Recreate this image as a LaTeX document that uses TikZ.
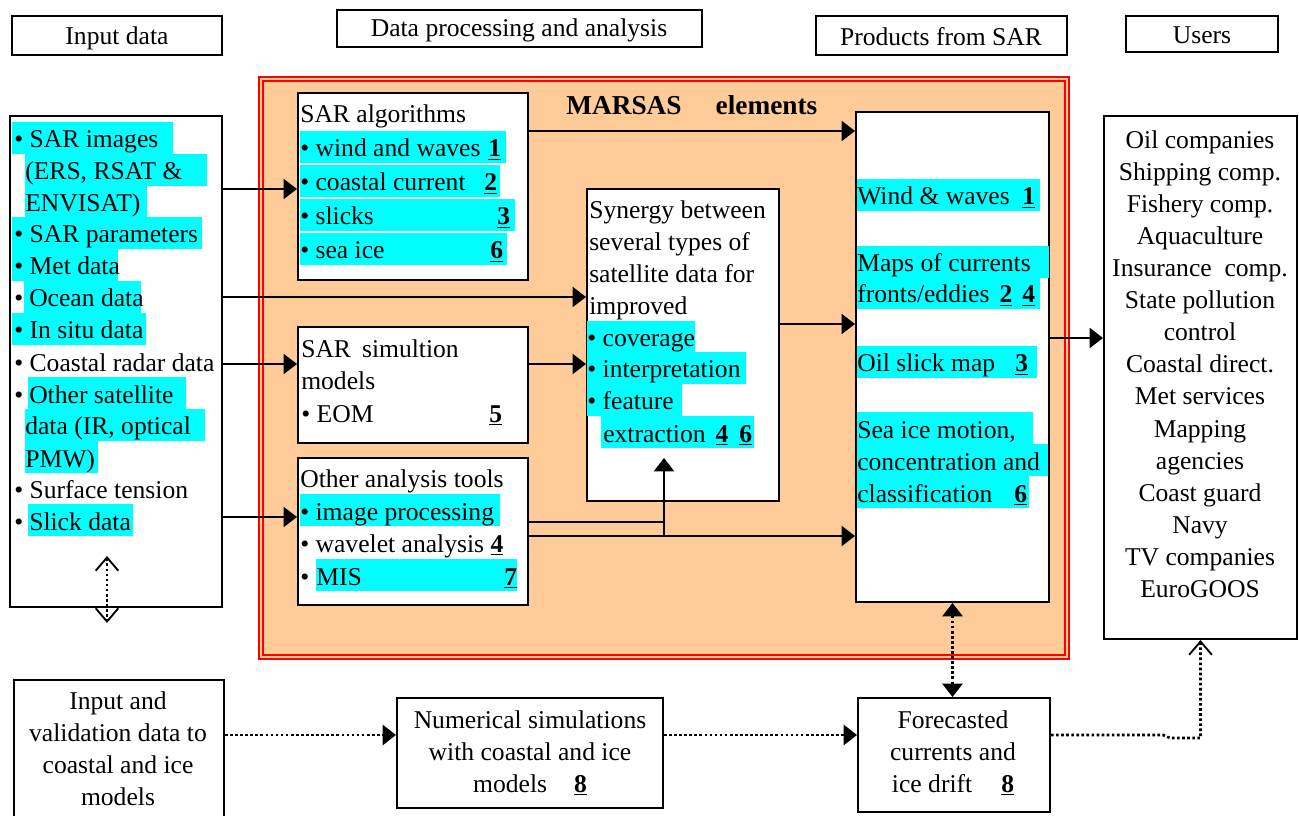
\documentclass[tikz,border=0pt]{standalone}
\usepackage{fontspec}
\setmainfont{Liberation Serif}
\usetikzlibrary{arrows.meta,fit}
\newlength\px
\setlength\px{0.75pt}
\definecolor{peach}{HTML}{FFCC99}
\definecolor{hlcyan}{HTML}{00FFFF}
% bold underlined reference number
\newcommand\nb[1]{\underline{\textbf{#1}}}
% highlighted text line: name, x, baseline y, width (px), text
\newcommand\hl[5]{\node[hlt] (#1) at (#2,#3) {\makebox[#4\px][l]{#5}};}
\tikzset{
  obarb/.tip={Straight Barb[length=10pt,width=17pt,line width=1.4pt]},
  ftri/.tip={Triangle[length=10pt,width=15pt]},
}
\begin{document}
\begin{tikzpicture}[x=0.75pt,y=-0.75pt,
  font=\fontsize{19.2}{24}\selectfont,
  txt/.style={anchor=base west, inner sep=0pt},
  ctxt/.style={anchor=base, inner sep=0pt},
  hlt/.style={txt, fill=hlcyan, text height=19.5pt, text depth=4.5pt},
  box/.style={draw, line width=1.5pt, fill=white, inner sep=0pt},
  frame/.style={draw=red, double=peach, double distance=2.2pt, line width=1.4pt, fill=peach, inner sep=0pt},
  ln/.style={line width=1.4pt},
  arr/.style={ln, -{ftri}},
  dotln/.style={line width=2pt, dash pattern=on 2pt off 1.8pt},
  dotarr/.style={dotln, -{ftri}},
  dotboth/.style={dotln, {ftri}-{ftri}},
]
\useasboundingbox (0,0) rectangle (1299,816);

% MARSAS frame
\node[frame, fit={(261,79)(1067,657)}] (marsas) {};
\node[txt, font=\fontsize{20.5}{24}\selectfont\bfseries] (mtitle) at (566,115) {MARSAS\hspace{34\px}elements};

% header boxes
\node[box, fit={(12,16)(222,55)}] (hin) {};
\node[ctxt] (hint) at (117,45) {Input data};
\node[box, fit={(337,10)(702,47)}] (hproc) {};
\node[ctxt] (hproct) at (519,37) {Data processing and analysis};
\node[box, fit={(816,16)(1067,55)}] (hprod) {};
\node[ctxt] (hprodt) at (941,46) {Products from SAR};
\node[box, fit={(1126,16)(1278,52)}] (husr) {};
\node[ctxt] (husrt) at (1202,44) {Users};

% main boxes
\node[box, fit={(10,116)(222,607)}] (input) {};
\node[box, fit={(298,93)(528,280)}] (alg) {};
\node[box, fit={(587,189)(779,501)}] (syn) {};
\node[box, fit={(298,327)(528,443)}] (sim) {};
\node[box, fit={(298,458)(528,605)}] (oth) {};
\node[box, fit={(856,112)(1049,602)}] (prod) {};
\node[box, fit={(1104,116)(1297,639)}] (users) {};
\node[box, fit={(14,680)(224,840)}] (val) {};
\node[box, fit={(397,698)(663,808)}] (num) {};
\node[box, fit={(858,698)(1050,812)}] (fore) {};

% input data
\hl{i1}{12}{148}{161}{\hspace{2\px}\textbullet\ SAR images}
\hl{i2}{25}{180}{182}{(ERS, RSAT \&}
\hl{i3}{25}{212}{122}{ENVISAT)}
\hl{i4}{12}{243}{190}{\hspace{2\px}\textbullet\ SAR parameters}
\hl{i5}{12}{275}{106}{\hspace{2\px}\textbullet\ Met data}
\hl{i6}{24}{307}{117}{\hspace{5\px}Ocean data}
\node[txt] (i6b) at (14,307) {\textbullet};
\hl{i7}{12}{339}{134}{\hspace{2\px}\textbullet\ In situ data}
\node[txt] (i8) at (14,372) {\textbullet\ Coastal radar data};
\hl{i9}{28}{403}{158}{\hspace{1\px}Other satellite}
\node[txt] (i9b) at (14,403) {\textbullet};
\hl{i10}{25}{435}{180}{data (IR, optical}
\hl{i11}{25}{467}{73}{PMW)}
\node[txt] (i12) at (14,498) {\textbullet\ Surface tension};
\hl{i13}{28}{530}{105}{\hspace{1\px}Slick data}
\node[txt] (i13b) at (14,530) {\textbullet};

% SAR algorithms
\node[txt] (a0) at (300,123) {SAR algorithms};
\hl{a1}{300}{157}{206}{\textbullet\ wind and waves\hfill\nb{1}\hspace{5\px}}
\hl{a2}{300}{191}{200}{\textbullet\ coastal current\hfill\nb{2}\hspace{3\px}}
\hl{a3}{300}{225}{215}{\textbullet\ slicks\hfill\nb{3}\hspace{5\px}}
\hl{a4}{300}{259}{207}{\textbullet\ sea ice\hfill\nb{6}\hspace{4\px}}

% synergy
\node[txt] (s1) at (589,219) {Synergy between};
\node[txt] (s2) at (589,251) {several types of};
\node[txt] (s3) at (589,283) {satellite data for};
\node[txt] (s4) at (589,315) {improved};
\hl{s5}{587}{347}{108}{\textbullet\ coverage}
\hl{s6}{587}{378}{159}{\textbullet\ interpretation}
\hl{s7}{587}{410}{95}{\textbullet\ feature}
\hl{s8}{601}{442}{153}{\hspace{2\px}extraction\hfill\nb{4}\hspace{11\px}\nb{6}\hspace{2\px}}

% SAR simulation models
\node[txt] (m1) at (301,358) {SAR\hspace{11\px}simultion};
\node[txt] (m2) at (301,390) {models};
\node[txt] (m3) at (301,422) {\makebox[201\px][l]{\textbullet\ EOM\hfill\nb{5}}};

% other analysis tools
\node[txt] (o1) at (300,487) {Other analysis tools};
\hl{o2}{300}{520}{200}{\textbullet\ image processing}
\node[txt] (o3) at (300,552) {\textbullet\ wavelet analysis \nb{4}};
\hl{o4}{316}{585}{201}{MIS\hfill\nb{7}}
\node[txt] (o4b) at (300,585) {\textbullet};

% products
\hl{p1}{857}{205}{183}{Wind \& waves\hfill\nb{1}\hspace{5\px}}
\hl{p2}{857}{272}{192}{Maps of currents}
\hl{p3}{857}{303}{183}{fronts/eddies\hfill\nb{2}\hspace{10\px}\nb{4}\hspace{5\px}}
\hl{p4}{857}{372}{180}{Oil slick map\hfill\nb{3}\hspace{9\px}}
\hl{p5}{857}{438}{176}{Sea ice motion,}
\hl{p6}{857}{470}{191}{concentration and}
\hl{p7}{857}{502}{172}{classification\hfill\nb{6}\hspace{2\px}}

% users
\foreach \t [count=\i] in {Oil companies, Shipping comp., Fishery comp., Aquaculture,
  Insurance\ \ comp., State pollution, control, Coastal direct., Met services,
  Mapping, agencies, Coast guard, Navy, TV companies, EuroGOOS}
  \node[ctxt] (u\i) at (1200,117+32*\i) {\t};

% bottom row
\node[ctxt] (v1) at (118,709) {Input and};
\node[ctxt] (v2) at (118,741) {validation data to};
\node[ctxt] (v3) at (118,773) {coastal and ice};
\node[ctxt] (v4) at (118,805) {models};
\node[ctxt] (n1) at (530,728) {Numerical simulations};
\node[ctxt] (n2) at (530,760) {with coastal and ice};
\node[ctxt] (n3) at (530,792) {models\hspace{27\px}\nb{8}};
\node[ctxt] (f1) at (953,728) {Forecasted};
\node[ctxt] (f2) at (953,760) {currents and};
\node[ctxt] (f3) at (953,792) {ice drift\hspace{29\px}\nb{8}};

% connector levels
\coordinate (y131) at (0,131);
\coordinate (y189) at (0,189);
\coordinate (y297) at (0,297);
\coordinate (y324) at (0,324);
\coordinate (y338) at (0,338);
\coordinate (y364) at (0,364);
\coordinate (y517) at (0,517);
\coordinate (jn) at (664,522);
\coordinate (jb) at (664,536);
\coordinate (jt) at (664,458);
\coordinate (dt) at (107,556);
\coordinate (db) at (107,623);
\coordinate (k1) at (1163,735);
\coordinate (k2) at (1170,738);

% solid connectors
\draw[arr] (input.east |- y189) -- (alg.west |- y189);
\draw[arr] (alg.east |- y131) -- (prod.west |- y131);
\draw[arr] (input.east |- y297) -- (syn.west |- y297);
\draw[arr] (input.east |- y364) -- (sim.west |- y364);
\draw[arr] (sim.east |- y364) -- (syn.west |- y364);
\draw[arr] (syn.east |- y324) -- (prod.west |- y324);
\draw[arr] (input.east |- y517) -- (oth.west |- y517);
\draw[ln] (oth.east |- jn) -- (jn);
\draw[arr] (oth.east |- jb) -- (prod.west |- jb);
\draw[arr] (jb) -- (jt);
\draw[arr] (prod.east |- y338) -- (users.west |- y338);

% dotted connectors
\draw[dotln, {obarb}-{obarb}] (dt) -- (db);
\draw[dotboth] (prod.south) -- (prod.south |- fore.north);
\draw[dotarr] (val.east |- k1) -- (num.west |- k1);
\draw[dotarr] (num.east |- k1) -- (fore.west |- k1);
\draw[dotln, -{obarb}] (fore.east |- k1) -- (k1) -- (k2) -- (k2 -| users.south) -- (users.south);
\end{tikzpicture}
\end{document}
